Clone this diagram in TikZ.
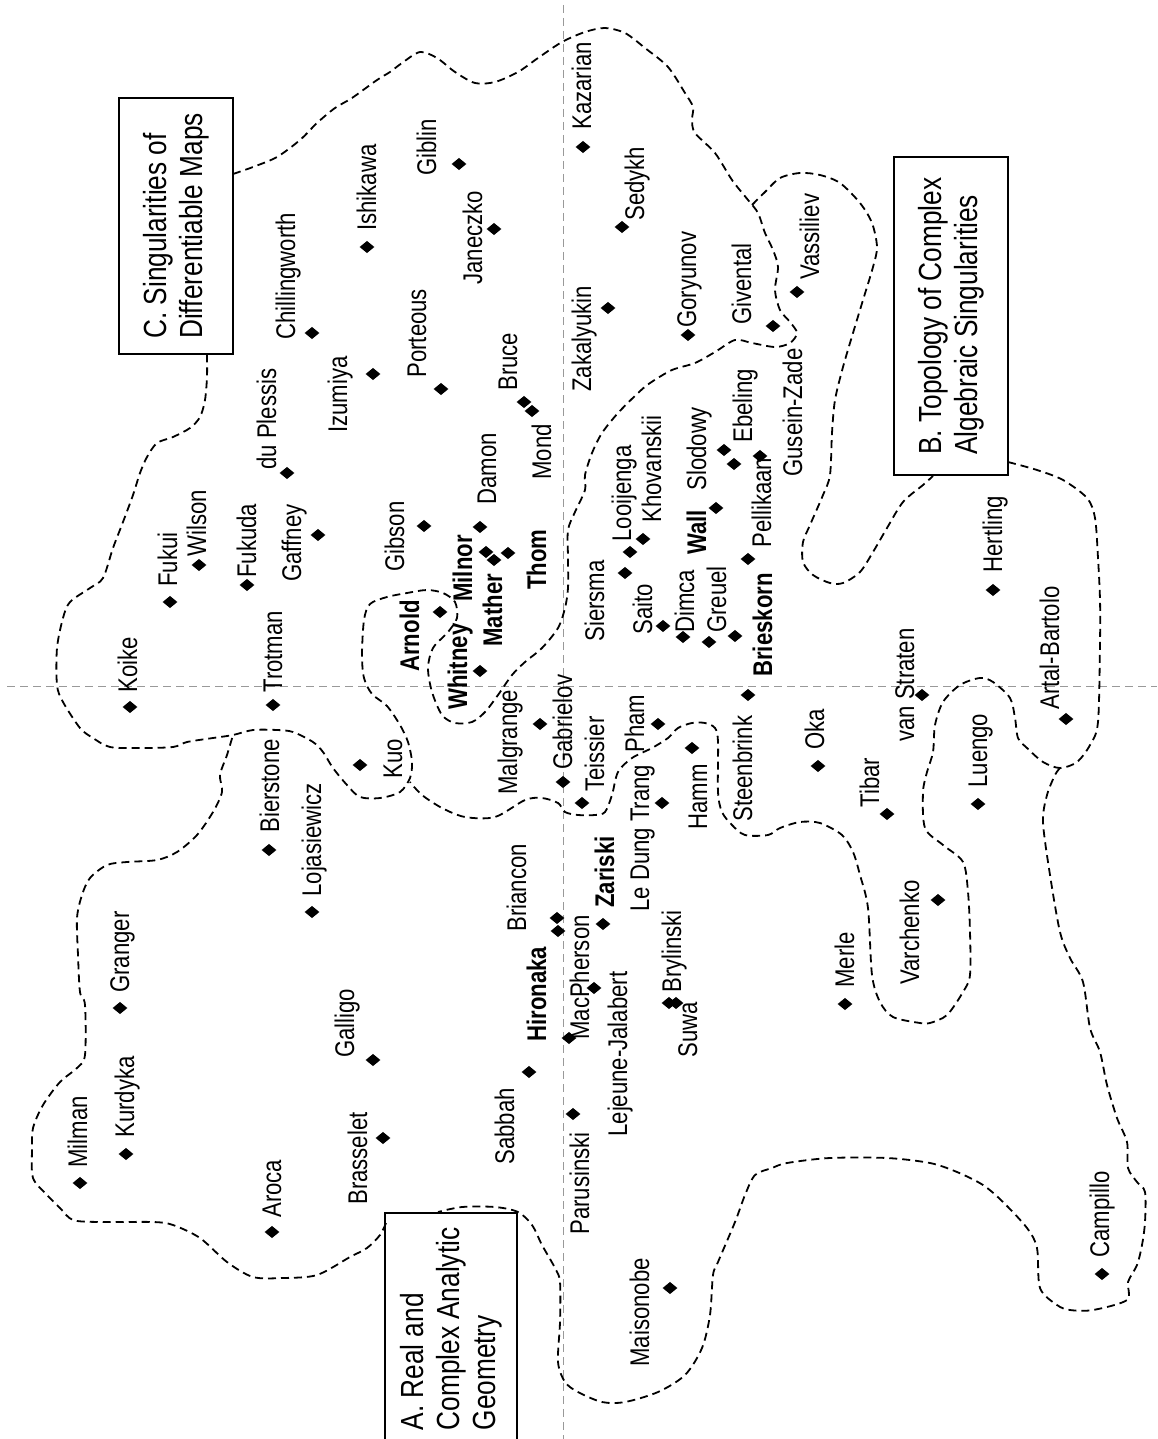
\documentclass[tikz,border=0pt]{standalone}
\usepackage{fontspec}
\setmainfont{Liberation Sans}[FakeStretch=0.82]
\usetikzlibrary{shapes.geometric}
\tikzset{
  who/.style={rotate=90, anchor=base west, inner sep=0pt, font=\fontsize{13.5}{16}\selectfont},
  boss/.style={who, font=\fontsize{13.5}{16}\selectfont\bfseries},
  spot/.style={diamond, fill=black, inner sep=0pt, minimum width=7.5pt, minimum height=6.2pt},
  catbox/.style={draw, line width=1pt, rotate=90, align=left, inner sep=0pt, font=\fontsize{16}{18}\selectfont},
  region/.style={line width=0.9pt, dash pattern=on 4pt off 2.5pt},
  axisline/.style={black!40, line width=0.5pt, dash pattern=on 4pt off 2.5pt}
}
\begin{document}
\begin{tikzpicture}[x=0.5pt, y=-0.5pt]
  \useasboundingbox (0,0) rectangle (1157,1439);
  \fill[white] (0,0) rectangle (1157,1439);
  \clip (0,0) rectangle (1157,1439);
  \draw[axisline] (563,5) -- (563,1439);
  \draw[axisline] (7,686) -- (1157,686);

  \node[catbox, minimum width=128pt, minimum height=57pt] (boxC) at (176,226) {C. Singularities of\\Differentiable Maps};
  \node[catbox, minimum width=158.5pt, minimum height=57pt] (boxB) at (951,316) {B. Topology of Complex\\Algebraic Singularities};
  \node[catbox, minimum width=116pt, minimum height=66pt] (boxA) at (451,1329) {A. Real and\\Complex Analytic\\Geometry};

  \draw[region] plot[smooth, tension=0.5] coordinates {(233,174) (253,167) (277,157) (300,140) (317,123) (335,108) (352,98) (377,80) (390,72) (402,63) (420,52) (437,58) (455,72) (475,83) (495,82) (518,72) (538,58) (562,42) (585,32) (605,28) (625,33) (645,48) (668,67) (685,93) (693,107) (692,120) (695,133) (715,153) (732,180) (748,200) (758,213) (765,233) (773,250) (778,267) (775,290) (780,310) (790,322) (797,333) (790,343) (775,347) (752,343) (735,340) (715,352) (695,363) (672,370) (650,383) (638,393) (618,413) (602,433) (592,453) (585,475) (585,490) (575,512) (568,530) (568,558) (568,588) (565,608) (558,628) (542,648) (525,662) (512,675) (498,695) (485,712) (472,722) (455,723) (442,715) (432,692) (428,668) (433,648) (448,632) (457,618) (455,602) (443,593) (427,590) (407,593) (387,597) (370,604) (364,620) (362,655) (364,678) (372,694) (387,706) (400,725) (408,742) (412,762) (410,778) (400,792) (380,798) (360,797) (347,785) (333,768) (323,752) (313,742) (293,732) (277,730) (253,730) (233,735) (213,738) (187,742) (173,747) (140,748) (110,747) (93,738) (80,728) (63,702) (57,685) (57,648) (63,618) (70,602) (90,588) (103,578) (113,548) (123,522) (133,495) (140,473) (147,457) (157,443) (173,437) (190,428) (200,417) (205,400) (207,377) (207,354)};
  \draw[region] plot[smooth, tension=0.5] coordinates {(752,205) (765,192) (780,178) (800,173) (820,175) (840,183) (860,203) (872,223) (877,247) (873,267) (863,300) (853,333) (843,367) (835,400) (832,433) (830,475) (823,495) (810,525) (803,542) (803,562) (813,575) (830,583) (843,583) (860,572) (873,552) (887,528) (903,502) (923,485) (933,476)};
  \draw[region] plot[smooth, tension=0.5] coordinates {(1008,462) (1037,470) (1063,480) (1087,498) (1095,518) (1098,558) (1100,600) (1100,642) (1098,722) (1090,745) (1077,762) (1060,768) (1043,762) (1027,748) (1018,738) (1015,718) (1010,698) (993,682) (980,678) (960,685) (943,702) (935,725) (933,752) (927,772) (923,792) (925,828) (943,845) (963,862) (968,892) (970,932) (970,975) (963,992) (947,1015) (930,1023) (920,1023) (893,1017) (880,1002) (872,975) (868,908) (860,875) (853,852) (842,835) (820,823) (800,822) (780,828) (768,835) (745,835) (732,825) (722,812) (718,792) (718,742) (715,728) (705,723) (692,723) (678,728) (668,738) (652,748) (632,758) (618,772) (612,795) (605,812) (595,815) (578,815) (565,812) (558,803) (542,798) (525,800) (495,817) (465,817) (442,808) (422,795) (410,782)};
  \draw[region] plot[smooth, tension=0.5] coordinates {(1060,768) (1055,775) (1047,795) (1043,822) (1050,875) (1060,932) (1070,958) (1083,982) (1090,1028) (1100,1052) (1107,1085) (1117,1118) (1127,1142) (1128,1168) (1137,1182) (1145,1192) (1145,1222) (1142,1245) (1137,1265) (1128,1282) (1127,1300) (1093,1310) (1070,1310) (1057,1305) (1040,1288) (1037,1248) (1027,1228) (1003,1202) (983,1185) (957,1172) (930,1163) (887,1158) (830,1158) (787,1163) (772,1168) (755,1175) (745,1195) (735,1222) (718,1262) (713,1275) (710,1315) (702,1348) (685,1375) (658,1392) (625,1402) (602,1402) (578,1392) (565,1382) (558,1362) (560,1322) (560,1282) (555,1268) (542,1245) (532,1225) (518,1212) (495,1207) (462,1207) (438,1212)};
  \draw[region] plot[smooth, tension=0.5] coordinates {(386,1223) (380,1235) (367,1248) (350,1257) (317,1275) (283,1278) (253,1277) (227,1262) (200,1238) (173,1225) (153,1222) (100,1222) (73,1220) (60,1208) (47,1195) (33,1178) (32,1150) (33,1128) (43,1105) (60,1082) (77,1068) (85,1055) (85,1005) (80,992) (78,955) (77,918) (82,895) (90,878) (107,865) (127,862) (157,860) (177,852) (197,835) (213,812) (222,792) (220,775) (227,755) (233,735)};

  \node[spot] (koike-pt) at (130,707) {};
  \node[who] (koike) at (137,693) {Koike};
  \node[spot] (fukui-pt) at (170,602) {};
  \node[who] (fukui) at (177,587) {Fukui};
  \node[spot] (wilson-pt) at (199,565) {};
  \node[who] (wilson) at (206,557) {Wilson};
  \node[spot] (fukuda-pt) at (247,585) {};
  \node[who] (fukuda) at (256,578) {Fukuda};
  \node[spot] (gaffney-pt) at (318,535) {};
  \node[who] (gaffney) at (301,582) {Gaffney};
  \node[spot] (trotman-pt) at (273,705) {};
  \node[who] (trotman) at (282,693) {Trotman};
  \node[spot] (bierstone-pt) at (269,850) {};
  \node[who] (bierstone) at (279,833) {Bierstone};
  \node[spot] (lojasiewicz-pt) at (312,912) {};
  \node[who] (lojasiewicz) at (321,897) {Lojasiewicz};
  \node[spot] (kuo-pt) at (360,765) {};
  \node[who] (kuo) at (402,779) {Kuo};
  \node[spot] (chillingworth-pt) at (312,333) {};
  \node[who] (chillingworth) at (295,340) {Chillingworth};
  \node[spot] (duplessis-pt) at (287,473) {};
  \node[who] (duplessis) at (276,470) {du Plessis};
  \node[spot] (ishikawa-pt) at (367,247) {};
  \node[who] (ishikawa) at (376,231) {Ishikawa};
  \node[spot] (izumiya-pt) at (373,374) {};
  \node[who] (izumiya) at (347,433) {Izumiya};
  \node[spot] (giblin-pt) at (459,164) {};
  \node[who] (giblin) at (436,176) {Giblin};
  \node[spot] (janeczko-pt) at (494,229) {};
  \node[who] (janeczko) at (482,285) {Janeczko};
  \node[spot] (porteous-pt) at (441,389) {};
  \node[who] (porteous) at (426,378) {Porteous};
  \node[spot] (bruce-pt) at (524,402) {};
  \node[who] (bruce) at (517,391) {Bruce};
  \node[spot] (mond-pt) at (532,411) {};
  \node[who] (mond) at (551,480) {Mond};
  \node[spot] (kazarian-pt) at (583,147) {};
  \node[who] (kazarian) at (591,130) {Kazarian};
  \node[spot] (sedykh-pt) at (622,227) {};
  \node[who] (sedykh) at (644,221) {Sedykh};
  \node[spot] (zakalyukin-pt) at (608,308) {};
  \node[who] (zakalyukin) at (591,392) {Zakalyukin};
  \node[spot] (goryunov-pt) at (688,335) {};
  \node[who] (goryunov) at (696,328) {Goryunov};
  \node[spot] (givental-pt) at (773,326) {};
  \node[who] (givental) at (751,325) {Givental};
  \node[spot] (vassiliev-pt) at (797,292) {};
  \node[who] (vassiliev) at (819,280) {Vassiliev};
  \node[spot] (slodowy-pt) at (724,450) {};
  \node[who] (slodowy) at (706,491) {Slodowy};
  \node[spot] (ebeling-pt) at (734,464) {};
  \node[who] (ebeling) at (752,443) {Ebeling};
  \node[spot] (guseinzade-pt) at (760,456) {};
  \node[who] (guseinzade) at (802,477) {Gusein-Zade};
  \node[spot] (wall-pt) at (716,508) {};
  \node[boss] (wall) at (706,555) {Wall};
  \node[spot] (pellikaan-pt) at (748,559) {};
  \node[who] (pellikaan) at (771,548) {Pellikaan};
  \node[spot] (gibson-pt) at (424,526) {};
  \node[who] (gibson) at (404,572) {Gibson};
  \node[spot] (damon-pt) at (480,527) {};
  \node[who] (damon) at (496,505) {Damon};
  \node[spot] (milnor-pt) at (486,552) {};
  \node[boss] (milnor) at (472,602) {Milnor};
  \node[spot] (mather-pt) at (494,560) {};
  \node[boss] (mather) at (502,647) {Mather};
  \node[spot] (thom-pt) at (508,553) {};
  \node[boss] (thom) at (546,590) {Thom};
  \node[spot] (arnold-pt) at (440,612) {};
  \node[boss] (arnold) at (419,672) {Arnold};
  \node[spot] (whitney-pt) at (480,671) {};
  \node[boss] (whitney) at (467,710) {Whitney};
  \node[spot] (malgrange-pt) at (540,724) {};
  \node[who] (malgrange) at (517,795) {Malgrange};
  \node[spot] (gabrielov-pt) at (563,782) {};
  \node[who] (gabrielov) at (572,770) {Gabrielov};
  \node[spot] (teissier-pt) at (582,803) {};
  \node[who] (teissier) at (604,792) {Teissier};
  \node[spot] (pham-pt) at (658,724) {};
  \node[who] (pham) at (644,753) {Pham};
  \node[spot] (ledungtrang-pt) at (662,803) {};
  \node[who] (ledungtrang) at (649,912) {Le Dung Trang};
  \node[spot] (hamm-pt) at (692,748) {};
  \node[who] (hamm) at (707,830) {Hamm};
  \node[spot] (steenbrink-pt) at (748,695) {};
  \node[who] (steenbrink) at (752,822) {Steenbrink};
  \node[spot] (brieskorn-pt) at (735,636) {};
  \node[boss] (brieskorn) at (772,677) {Brieskorn};
  \node[spot] (siersma-pt) at (625,573) {};
  \node[who] (siersma) at (604,642) {Siersma};
  \node[spot] (saito-pt) at (663,626) {};
  \node[who] (saito) at (652,635) {Saito};
  \node[spot] (looijenga-pt) at (630,552) {};
  \node[who] (looijenga) at (631,542) {Looijenga};
  \node[spot] (khovanskii-pt) at (643,539) {};
  \node[who] (khovanskii) at (661,523) {Khovanskii};
  \node[spot] (dimca-pt) at (683,637) {};
  \node[who] (dimca) at (694,633) {Dimca};
  \node[spot] (greuel-pt) at (709,642) {};
  \node[who] (greuel) at (726,633) {Greuel};
  \node[spot] (hertling-pt) at (993,590) {};
  \node[who] (hertling) at (1002,573) {Hertling};
  \node[spot] (artalbartolo-pt) at (1066,719) {};
  \node[who] (artalbartolo) at (1059,710) {Artal-Bartolo};
  \node[spot] (vanstraten-pt) at (922,695) {};
  \node[who] (vanstraten) at (914,742) {van Straten};
  \node[spot] (oka-pt) at (818,766) {};
  \node[who] (oka) at (824,750) {Oka};
  \node[spot] (tibar-pt) at (887,814) {};
  \node[who] (tibar) at (879,808) {Tibar};
  \node[spot] (luengo-pt) at (978,804) {};
  \node[who] (luengo) at (987,788) {Luengo};
  \node[spot] (varchenko-pt) at (938,900) {};
  \node[who] (varchenko) at (919,985) {Varchenko};
  \node[spot] (merle-pt) at (845,1004) {};
  \node[who] (merle) at (854,988) {Merle};
  \node[spot] (campillo-pt) at (1102,1274) {};
  \node[who] (campillo) at (1109,1258) {Campillo};
  \node[spot] (granger-pt) at (120,1008) {};
  \node[who] (granger) at (129,993) {Granger};
  \node[spot] (kurdyka-pt) at (126,1154) {};
  \node[who] (kurdyka) at (134,1138) {Kurdyka};
  \node[spot] (milman-pt) at (80,1183) {};
  \node[who] (milman) at (87,1168) {Milman};
  \node[spot] (galligo-pt) at (373,1060) {};
  \node[who] (galligo) at (354,1058) {Galligo};
  \node[spot] (aroca-pt) at (272,1232) {};
  \node[who] (aroca) at (281,1218) {Aroca};
  \node[spot] (brasselet-pt) at (383,1138) {};
  \node[who] (brasselet) at (367,1205) {Brasselet};
  \node[spot] (sabbah-pt) at (529,1072) {};
  \node[who] (sabbah) at (514,1165) {Sabbah};
  \node[spot] (hironaka-pt) at (558,931) {};
  \node[boss] (hironaka) at (546,1042) {Hironaka};
  \node[spot] (briancon-pt) at (557,918) {};
  \node[who] (briancon) at (526,932) {Briancon};
  \node[spot] (zariski-pt) at (603,924) {};
  \node[boss] (zariski) at (614,908) {Zariski};
  \node[spot] (macpherson-pt) at (569,1038) {};
  \node[who] (macpherson) at (589,1040) {MacPherson};
  \node[spot] (lejeune-pt) at (594,988) {};
  \node[who] (lejeune) at (627,1137) {Lejeune-Jalabert};
  \node[spot] (parusinski-pt) at (573,1114) {};
  \node[who] (parusinski) at (589,1235) {Parusinski};
  \node[spot] (maisonobe-pt) at (670,1288) {};
  \node[who] (maisonobe) at (649,1367) {Maisonobe};
  \node[spot] (brylinski-pt) at (676,1003) {};
  \node[who] (brylinski) at (681,993) {Brylinski};
  \node[spot] (suwa-pt) at (669,1003) {};
  \node[who] (suwa) at (697,1058) {Suwa};
\end{tikzpicture}
\end{document}
